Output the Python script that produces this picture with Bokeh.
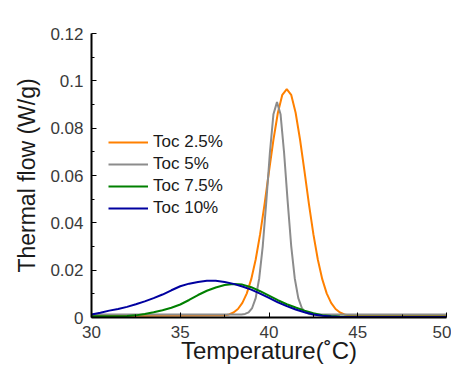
from bokeh.plotting import figure
from bokeh.models import FixedTicker, NumeralTickFormatter, Legend, LegendItem
from bokeh.embed import file_html
from bokeh.resources import INLINE

# ---- data ----
t_toc25 = [30, 37.5, 37.75, 38.0, 38.25, 38.5, 38.75, 39.0, 39.25, 39.5, 39.75, 40.0, 40.25,
           40.5, 40.75, 41.0, 41.25, 41.5, 41.75, 42.0, 42.25, 42.5, 42.75, 43.0, 43.25,
           43.5, 43.75, 44.0, 44.25, 44.5, 44.75, 50]
q_toc25 = [0.0006, 0.0009, 0.0013, 0.0021, 0.0036, 0.0062, 0.0102, 0.0162, 0.0245, 0.0352,
           0.0479, 0.0617, 0.0751, 0.0865, 0.0941, 0.0965, 0.0941, 0.0865, 0.0751, 0.0617,
           0.0479, 0.0352, 0.0245, 0.0162, 0.0102, 0.0062, 0.0036, 0.0021, 0.0013, 0.0009,
           0.0007, 0.0006]

t_toc5 = [30, 38.45, 38.65, 38.85, 39.05, 39.25, 39.45, 39.65, 39.85, 40.05, 40.25, 40.45,
          40.65, 40.85, 41.05, 41.25, 41.45, 41.65, 41.85, 42.05, 42.25, 42.45, 50]
q_toc5 = [0.0013, 0.0013, 0.0015, 0.0022, 0.0040, 0.0082, 0.0166, 0.0303, 0.0492, 0.0696,
          0.0859, 0.0910, 0.0859, 0.0696, 0.0492, 0.0303, 0.0166, 0.0082, 0.0040, 0.0022,
          0.0015, 0.0013, 0.0013]

t_toc75 = [30, 31, 32, 32.5, 33, 33.5, 34, 34.5, 35, 35.5, 36, 36.5, 37, 37.5, 38, 38.5,
           39, 39.5, 40, 40.5, 41, 41.5, 42, 42.5, 43, 43.5, 44, 44.5, 50]
q_toc75 = [0.0005, 0.0005, 0.0006, 0.0009, 0.0015, 0.0022, 0.0031, 0.0041, 0.0055, 0.0074,
           0.0095, 0.0113, 0.0127, 0.0137, 0.0142, 0.0139, 0.0128, 0.0111, 0.0092, 0.0073,
           0.0056, 0.0042, 0.0029, 0.0018, 0.0010, 0.0006, 0.0004, 0.0003, 0.0003]

t_toc10 = [30, 30.5, 31, 31.5, 32, 32.5, 33, 33.5, 34, 34.5, 35, 35.5, 36, 36.5, 37, 37.5,
           38, 38.5, 39, 39.5, 40, 40.5, 41, 41.5, 42, 42.5, 43, 43.5, 44, 44.5, 50]
q_toc10 = [0.0013, 0.0020, 0.0029, 0.0036, 0.0045, 0.0056, 0.0068, 0.0082, 0.0097, 0.0115,
           0.0132, 0.0143, 0.0150, 0.0155, 0.0155, 0.0150, 0.0142, 0.0131, 0.0118, 0.0101,
           0.0083, 0.0064, 0.0048, 0.0034, 0.0022, 0.0013, 0.0007, 0.0004, 0.0002, 0.0002,
           0.0002]

series_names = ["Toc 2.5%", "Toc 5%", "Toc 7.5%", "Toc 10%"]
series_colors = ["#FF8000", "#8C8C8C", "#008000", "#0000A0"]
x_ticks = [30, 35, 40, 45, 50]
x_minor = [32.5, 37.5, 42.5, 47.5]
y_ticks = [0, 0.02, 0.04, 0.06, 0.08, 0.10, 0.12]
y_minor = [0.01, 0.03, 0.05, 0.07, 0.09, 0.11]

FONT = "Liberation Sans"

p = figure(width=451, height=366, x_range=(30, 50), y_range=(0, 0.12),
           output_backend="svg", toolbar_location=None,
           min_border_left=91, min_border_right=5, min_border_top=33, min_border_bottom=48)
p.outline_line_color = None
p.xgrid.visible = False
p.ygrid.visible = False
p.background_fill_color = "white"

renderers = []
for t, q, c in zip([t_toc25, t_toc5, t_toc75, t_toc10],
                   [q_toc25, q_toc5, q_toc75, q_toc10], series_colors):
    renderers.append(p.line(t, q, line_color=c, line_width=2))

# axes
for ax in (p.xaxis[0], p.yaxis[0]):
    ax.axis_line_color = "black"
    ax.axis_line_width = 2
    ax.major_tick_line_color = "black"
    ax.minor_tick_line_color = "black"
    ax.major_tick_in = 5
    ax.major_tick_out = 0
    ax.minor_tick_in = 3
    ax.minor_tick_out = 0
    ax.major_label_text_font = FONT
    ax.major_label_text_font_size = "17px"
    ax.major_label_text_color = "#3a3a3a"
    ax.axis_label_text_font = FONT
    ax.axis_label_text_font_style = "normal"
    ax.axis_label_text_color = "#1a1a1a"

p.xaxis[0].axis_label_text_font_size = "24px"
p.yaxis[0].axis_label_text_font_size = "23px"
p.xaxis[0].ticker = FixedTicker(ticks=x_ticks, minor_ticks=x_minor)
p.yaxis[0].ticker = FixedTicker(ticks=y_ticks, minor_ticks=y_minor)
p.yaxis[0].formatter = NumeralTickFormatter(format="0.[00]")
p.xaxis[0].axis_label = "Temperature(˚C)"
p.yaxis[0].axis_label = "Thermal flow (W/g)"
p.xaxis[0].major_label_standoff = 8
p.xaxis[0].axis_label_standoff = -4
p.yaxis[0].major_label_standoff = 8
p.yaxis[0].axis_label_standoff = 7

legend = Legend(items=[LegendItem(label=n, renderers=[r]) for n, r in zip(series_names, renderers)],
                location=(17, 99), padding=0, margin=0, spacing=2,
                glyph_width=40, glyph_height=20, label_height=20, label_standoff=5,
                label_text_font=FONT, label_text_font_size="17px", label_text_color="#1a1a1a",
                background_fill_alpha=0, border_line_alpha=0)
p.add_layout(legend, "center")

open("out.html", "w").write(file_html(p, INLINE))
